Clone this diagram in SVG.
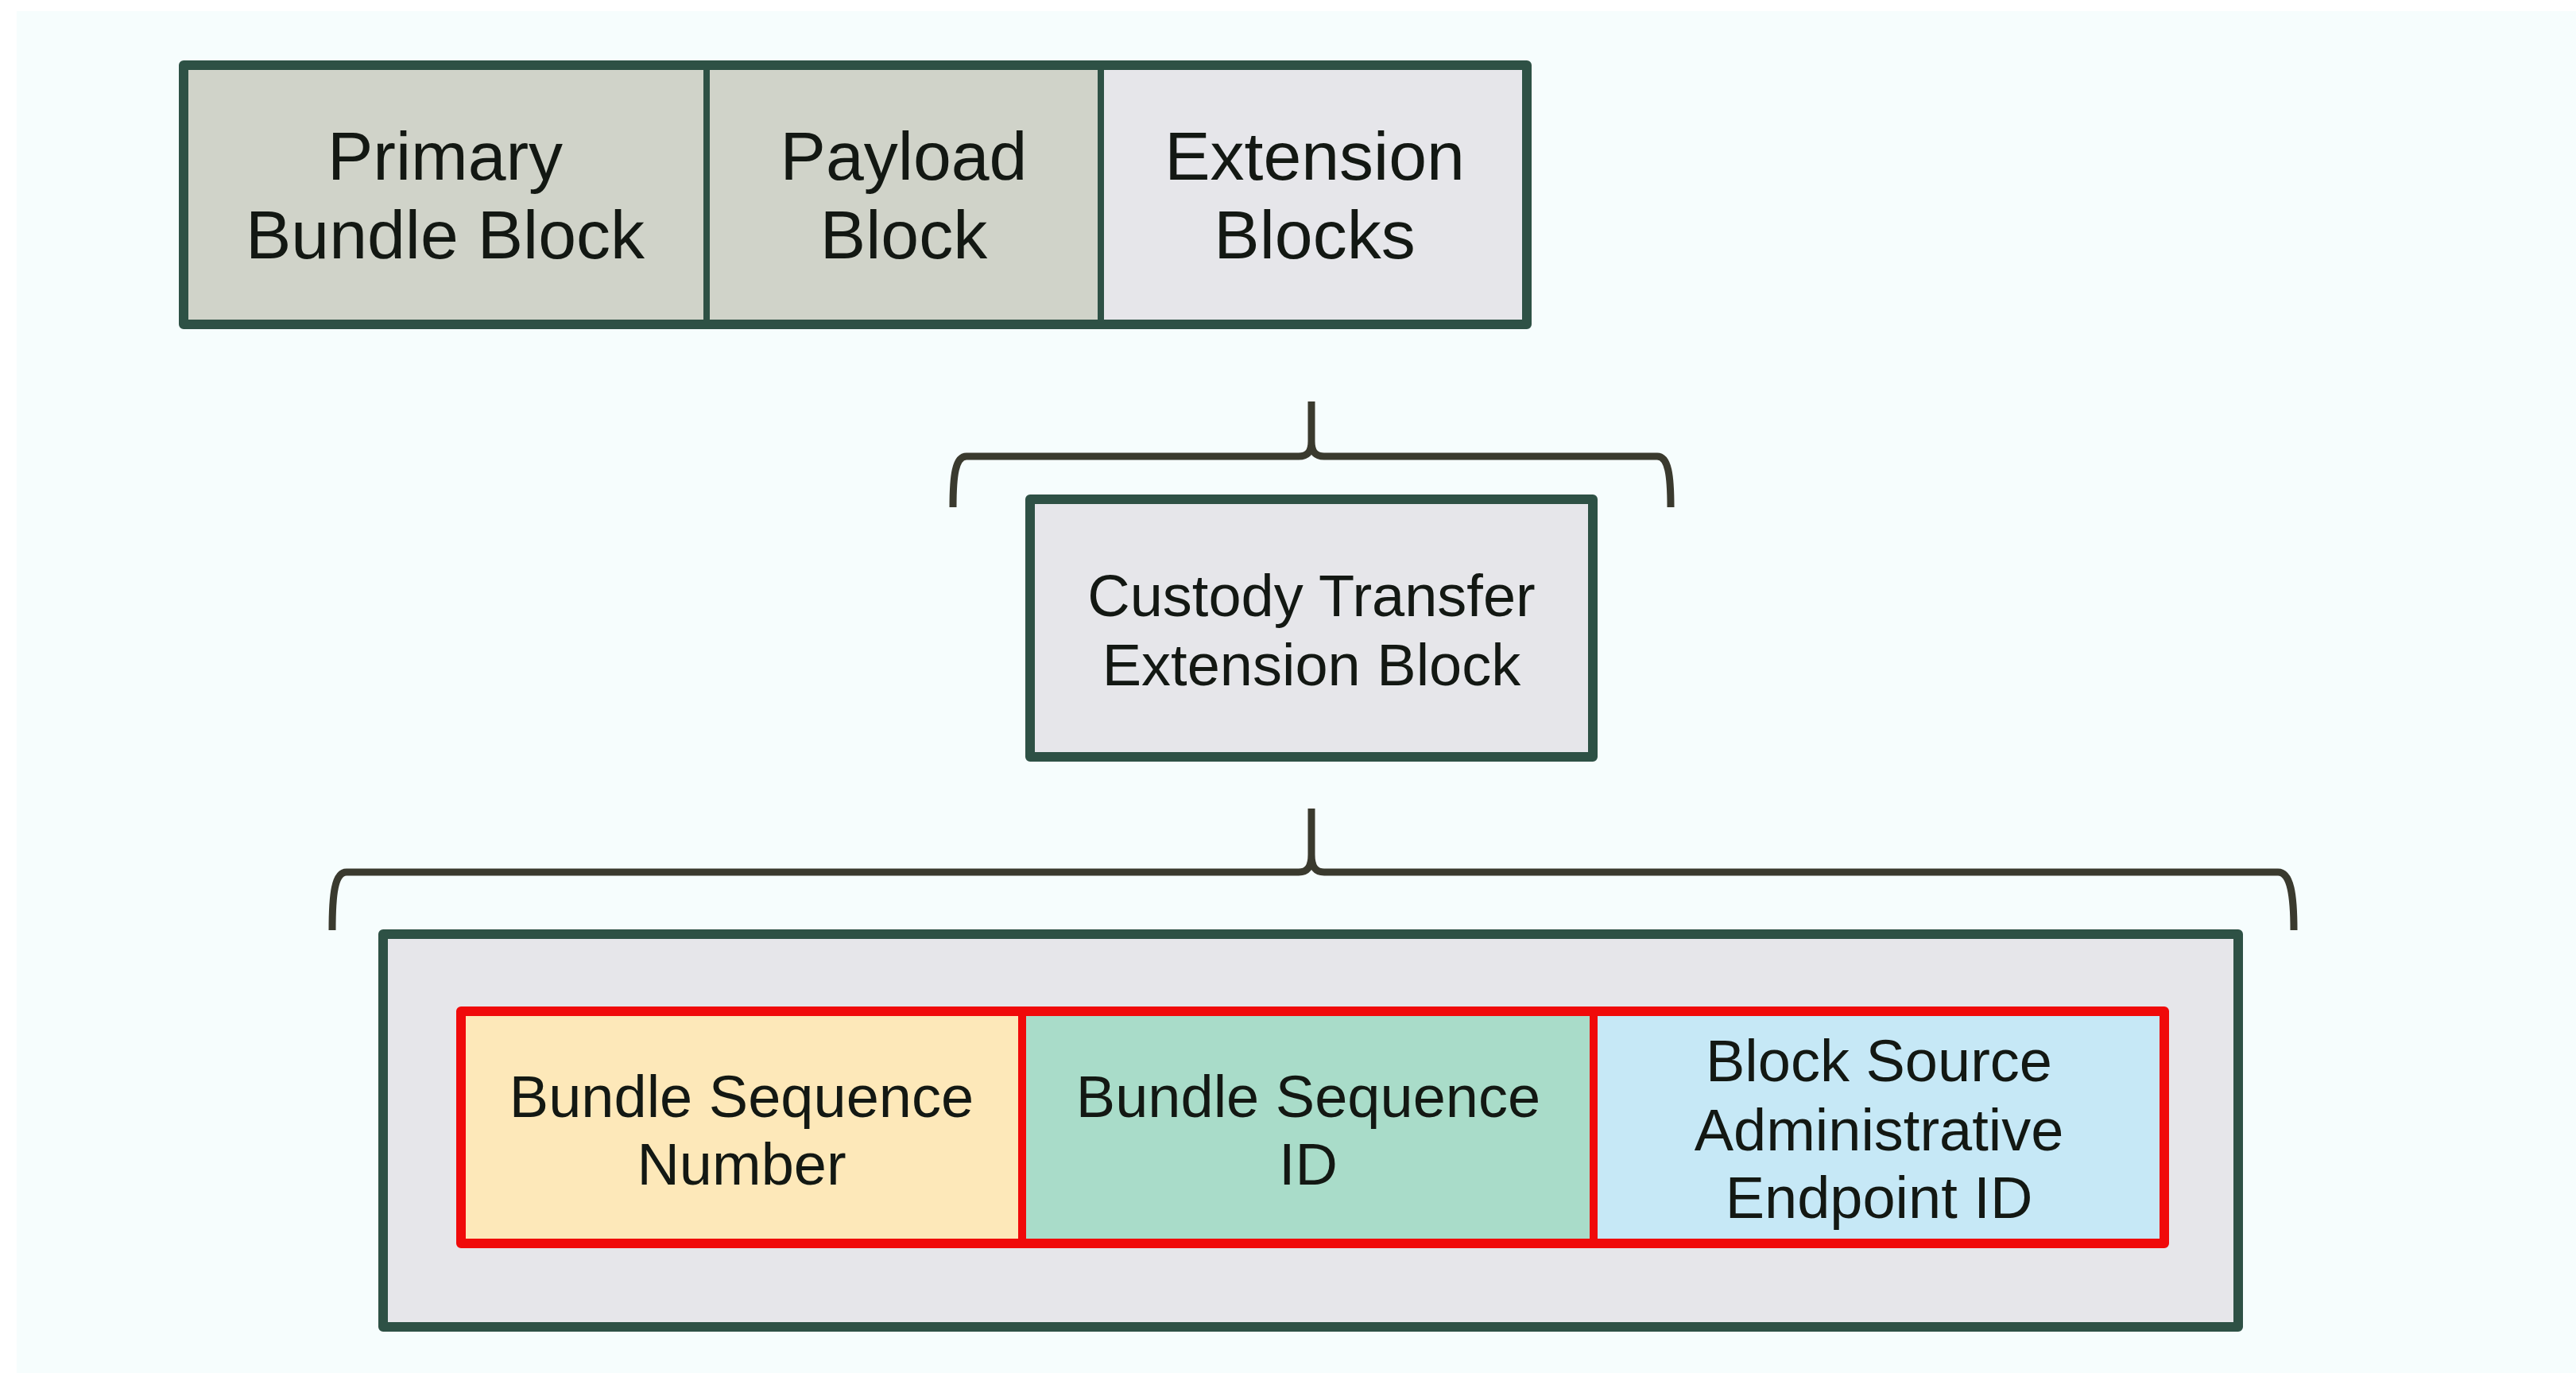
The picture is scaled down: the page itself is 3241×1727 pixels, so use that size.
<svg xmlns="http://www.w3.org/2000/svg" width="3241" height="1727" viewBox="0 0 3241 1727">
<defs>
<style>
.box{stroke:#2e5145;stroke-width:12;stroke-linejoin:round}
.div{stroke:#2e5145;stroke-width:8}
.red{stroke:#f00a0a;stroke-width:12;stroke-linejoin:round}
.rdiv{stroke:#f00a0a;stroke-width:10}
.brace{fill:none;stroke:#3a3a2e;stroke-width:9;stroke-linecap:butt;stroke-linejoin:round}
text{font-family:"Liberation Sans",Arial,Helvetica,sans-serif;fill:#131813;text-anchor:middle}
.big{font-size:86px}
.mid{font-size:74px}
</style>
</defs>
<rect x="0" y="0" width="3241" height="1727" fill="#ffffff"/>
<rect x="21" y="14" width="3220" height="1713" fill="#f6fdfd"/>

<g id="bundle">
<g id="primary">
<rect x="231" y="82" width="658" height="326" fill="#d0d3c9" stroke="none"/>
<text class="big" x="560" y="226">Primary</text>
<text class="big" x="560" y="325">Bundle Block</text>
</g>
<g id="payload">
<rect x="889" y="82" width="496" height="326" fill="#d0d3c9" stroke="none"/>
<text class="big" x="1137" y="226">Payload</text>
<text class="big" x="1137" y="325">Block</text>
</g>
<g id="extension">
<rect x="1385" y="82" width="536" height="326" fill="#e6e6ea" stroke="none"/>
<text class="big" x="1654" y="226">Extension</text>
<text class="big" x="1654" y="325">Blocks</text>
</g>
<rect class="box" x="231" y="82" width="1690" height="326" fill="none"/>
<line class="div" x1="889" y1="82" x2="889" y2="408"/>
<line class="div" x1="1385" y1="82" x2="1385" y2="408"/>
</g>

<g id="connectors">
<path class="brace" d="M1199,638 C1199,598 1202,574 1216,574 H1634 C1645,574 1650,568 1650,555 V505 M1650,555 C1650,568 1655,574 1666,574 H2085 C2099,574 2102,598 2102,638"/>
<path class="brace" d="M418,1170 C418,1125 421,1097 436,1097 H1634 C1645,1097 1650,1090 1650,1075 V1017 M1650,1075 C1650,1090 1655,1097 1666,1097 H2866 C2882,1097 2886,1125 2886,1170"/>
</g>

<g id="custody">
<rect class="box" x="1296" y="628" width="708" height="324" fill="#e6e6ea"/>
<text class="mid" x="1650" y="775">Custody Transfer</text>
<text class="mid" x="1650" y="862">Extension Block</text>
</g>

<g id="fields">
<rect class="box" x="482" y="1175" width="2334" height="494" fill="#e6e6ea"/>
<g id="bsn">
<rect x="580" y="1272" width="706" height="292" fill="#fde8b9"/>
<text class="mid" x="933" y="1405">Bundle Sequence</text>
<text class="mid" x="933" y="1490">Number</text>
</g>
<g id="bsid">
<rect x="1286" y="1272" width="719" height="292" fill="#a9dcc9"/>
<text class="mid" x="1646" y="1405">Bundle Sequence</text>
<text class="mid" x="1646" y="1490">ID</text>
</g>
<g id="bsaeid">
<rect x="2005" y="1272" width="718" height="292" fill="#c6e8f6"/>
<text class="mid" x="2364" y="1360">Block Source</text>
<text class="mid" x="2364" y="1447">Administrative</text>
<text class="mid" x="2364" y="1532">Endpoint ID</text>
</g>
<rect class="red" x="580" y="1272" width="2143" height="292" fill="none"/>
<line class="rdiv" x1="1286" y1="1272" x2="1286" y2="1564"/>
<line class="rdiv" x1="2005" y1="1272" x2="2005" y2="1564"/>
</g>
</svg>
